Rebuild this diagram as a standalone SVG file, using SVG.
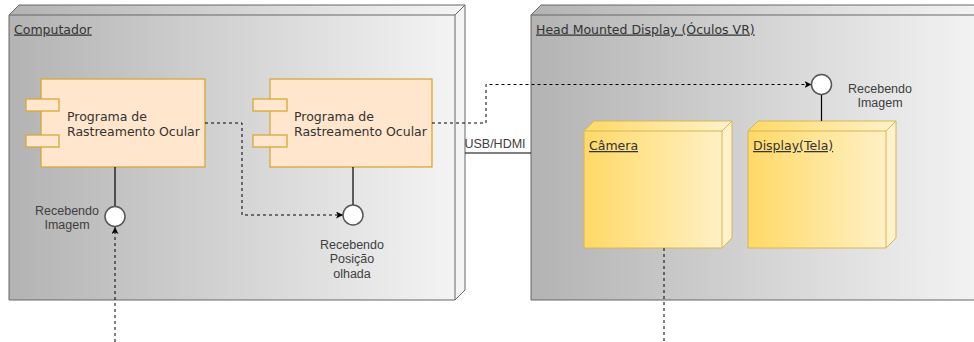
<svg xmlns="http://www.w3.org/2000/svg" width="974" height="342" viewBox="0 0 974 342">
  <style>
    .node3d { stroke: #666666; stroke-width: 1; }
    .edge3d { fill: none; stroke: #666666; stroke-width: 1; }
    .dev { stroke: #d6b656; stroke-width: 1; }
    .devedge { fill: none; stroke: #d6b656; stroke-width: 1; }
    .comp { fill: #ffe6cc; stroke: #d6a838; stroke-width: 1.3; }
    .title { font-family: "DejaVu Sans", Verdana, sans-serif; font-size: 12.5px; fill: #333333; text-decoration: underline; }
    .ctext { font-family: "DejaVu Sans", Verdana, sans-serif; font-size: 12.5px; fill: #333333; }
    .lbl { font-family: "Liberation Sans", Arial, sans-serif; font-size: 12.5px; fill: #404040; text-anchor: middle; }
    .solid { fill: none; stroke: #000000; stroke-width: 1.2; }
    .dash { fill: none; stroke: #000000; stroke-width: 1; stroke-dasharray: 3 3; }
    .iface { fill: #ffffff; stroke: #555555; stroke-width: 1.5; }
  </style>
  <defs>
    <linearGradient id="gGray" x1="0" y1="0" x2="1" y2="0">
      <stop offset="0" stop-color="#b3b3b3"/>
      <stop offset="1" stop-color="#f5f5f5"/>
    </linearGradient>
    <linearGradient id="gYellow" x1="0" y1="0" x2="1" y2="0">
      <stop offset="0" stop-color="#ffd966"/>
      <stop offset="1" stop-color="#fff2cc"/>
    </linearGradient>
    <marker id="arrow" markerUnits="userSpaceOnUse" markerWidth="8" markerHeight="8" refX="7" refY="3.5" orient="auto">
      <path d="M0,0 L7,3.5 L0,7 L1.8,3.5 Z" fill="#000000"/>
    </marker>
  </defs>

  <rect width="974" height="342" fill="#ffffff"/>

  <g id="computador">
    <path class="node3d" fill="url(#gGray)" d="M9,15 L19,5 L465,5 L465,290 L455,300 L9,300 Z"/>
    <path class="edge3d" d="M9,15 L455,15 L465,5 M455,15 L455,300"/>
    <text class="title" x="14" y="33.5">Computador</text>
  </g>

  <g id="hmd">
    <path class="node3d" fill="url(#gGray)" d="M531,15 L541,5 L992,5 L992,290 L982,300 L531,300 Z"/>
    <path class="edge3d" d="M531,15 L982,15 L992,5 M982,15 L982,300"/>
    <text class="title" x="536" y="33.5">Head Mounted Display (Óculos VR)</text>
  </g>

  <g id="camera">
    <path class="dev" fill="url(#gYellow)" d="M584,131 L594,121 L732,121 L732,238 L722,248 L584,248 Z"/>
    <path class="devedge" d="M584,131 L722,131 L732,121 M722,131 L722,248"/>
    <text class="title" x="589" y="150">Câmera</text>
  </g>

  <g id="display">
    <path class="dev" fill="url(#gYellow)" d="M748,131 L758,121 L896,121 L896,238 L886,248 L748,248 Z"/>
    <path class="devedge" d="M748,131 L886,131 L896,121 M886,131 L886,248"/>
    <text class="title" x="753" y="150">Display(Tela)</text>
  </g>

  <g id="programa1">
    <rect class="comp" x="41" y="79" width="164" height="88"/>
    <rect class="comp" x="26" y="99" width="33" height="12"/>
    <rect class="comp" x="26" y="135" width="33" height="12"/>
    <text class="ctext" x="67" y="121">Programa de</text>
    <text class="ctext" x="67" y="135.5">Rastreamento Ocular</text>
  </g>

  <g id="programa2">
    <rect class="comp" x="270" y="79" width="162" height="88"/>
    <rect class="comp" x="253" y="99" width="34" height="12"/>
    <rect class="comp" x="253" y="135" width="34" height="12"/>
    <text class="ctext" x="294" y="121">Programa de</text>
    <text class="ctext" x="294" y="135.5">Rastreamento Ocular</text>
  </g>

  <g id="connectors">
    <path class="solid" d="M115,167 L115,206.5"/>
    <path class="solid" d="M353,167 L353,205"/>
    <path class="solid" d="M821.5,94.5 L821.5,121"/>
    <path class="solid" d="M465,153 L531,153"/>
    <path class="dash" d="M115,342 L115,227" marker-end="url(#arrow)"/>
    <path class="dash" d="M205,123 L242,123 L242,215 L343,215" marker-end="url(#arrow)"/>
    <path class="dash" d="M432,123 L486,123 L486,84.5 L811.5,84.5" marker-end="url(#arrow)"/>
    <path class="dash" d="M664,248 L664,342"/>
    <text class="lbl" x="495" y="148">USB/HDMI</text>
  </g>

  <g id="iface-img1">
    <circle class="iface" cx="115" cy="216.5" r="10"/>
    <text class="lbl" x="67" y="214.5">Recebendo</text>
    <text class="lbl" x="67" y="228.5">Imagem</text>
  </g>

  <g id="iface-pos">
    <circle class="iface" cx="353" cy="215" r="10"/>
    <text class="lbl" x="352" y="248.5">Recebendo</text>
    <text class="lbl" x="352" y="263">Posição</text>
    <text class="lbl" x="352" y="277.5">olhada</text>
  </g>

  <g id="iface-img2">
    <circle class="iface" cx="821.5" cy="84.5" r="10"/>
    <text class="lbl" x="880" y="92.8">Recebendo</text>
    <text class="lbl" x="880" y="107">Imagem</text>
  </g>
</svg>
